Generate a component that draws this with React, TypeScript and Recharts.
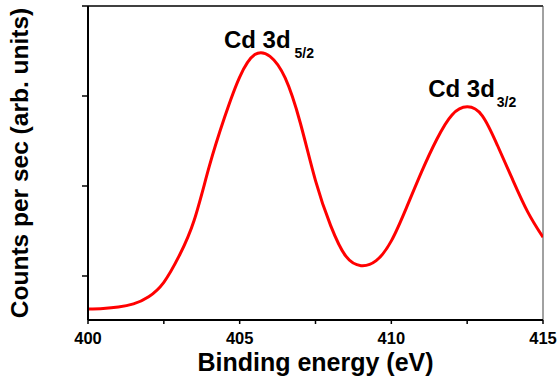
import React from "react";
import { LineChart, Line, XAxis, YAxis, ReferenceLine, ReferenceDot } from "recharts";

const energy = [400, 400.5, 401, 401.5, 402, 402.5, 403, 403.5, 404, 404.5, 405, 405.5, 406, 406.5, 407, 407.5, 408, 408.5, 409, 409.5, 410, 410.5, 411, 411.5, 412, 412.5, 413, 413.5, 414, 414.5, 415];
const counts = [0.633, 0.64, 0.655, 0.69, 0.77, 0.93, 1.22, 1.62, 2.22, 2.76, 3.21, 3.46, 3.44, 3.2, 2.7, 2.06, 1.56, 1.22, 1.115, 1.17, 1.39, 1.76, 2.16, 2.52, 2.79, 2.88, 2.78, 2.45, 2.07, 1.71, 1.43];
const xTicks = [400, 402.5, 405, 407.5, 410, 412.5, 415];
const xLabels = [400, 405, 410, 415];
const yTicks = [1, 2, 3, 4];
const peaks = [
  { x: 405.7, y: 3.49, main: "Cd 3d", sub: "5/2", dx: -37, dy: -4, gap: 4 },
  { x: 412.5, y: 2.88, main: "Cd 3d", sub: "3/2", dx: -39, dy: -10, gap: 2 },
];

const data = energy.map((e, i) => ({ e, c: counts[i] }));
const FONT = '"Liberation Sans", Arial, sans-serif';

const XTick = (props: any) => {
  const { x, y, payload } = props;
  if (!xLabels.includes(payload.value)) return <g />;
  return (
    <text x={x} y={y + 18} textAnchor="middle" fontFamily={FONT} fontWeight="bold" fontSize={16.5} fill="#000">
      {payload.value}
    </text>
  );
};

const EmptyTick = () => <g />;

const makeLabel = (p: typeof peaks[number]) => (props: any) => {
  const { cx, cy } = props;
  return (
    <text x={cx + p.dx} y={cy + p.dy} fontFamily={FONT} fontWeight="bold" fontSize={24} fill="#000">
      <tspan>{p.main}</tspan>
      <tspan fontSize={14} dx={p.gap} dy={10}>{p.sub}</tspan>
    </text>
  );
};

export default function App() {
  return (
    <div style={{ position: "absolute", left: 0, top: 0, width: 560, height: 376, background: "#fff" }}>
      <LineChart width={560} height={376} data={data} margin={{ top: 6, right: 17, bottom: 0, left: 0 }}>
        <XAxis
          dataKey="e"
          type="number"
          domain={[400, 415]}
          ticks={xTicks}
          allowDataOverflow
          height={56}
          tickSize={4}
          tickMargin={2}
          tick={<XTick />}
          axisLine={{ stroke: "#000", strokeWidth: 2 }}
          tickLine={{ stroke: "#000", strokeWidth: 1.5 }}
          label={{ value: "Binding energy (eV)", position: "insideBottom", offset: 5, fontFamily: FONT, fontWeight: "bold", fontSize: 25, fill: "#000" }}
        />
        <YAxis
          type="number"
          domain={[0.511, 4]}
          ticks={yTicks}
          allowDataOverflow
          width={88}
          tickSize={6}
          tick={<EmptyTick />}
          axisLine={{ stroke: "#000", strokeWidth: 2 }}
          tickLine={{ stroke: "#000", strokeWidth: 1.5 }}
          label={{ value: "Counts per sec (arb. units)", angle: -90, position: "insideLeft", offset: 19, style: { textAnchor: "middle" }, fontFamily: FONT, fontWeight: "bold", fontSize: 24.5, fill: "#000" }}
        />
        <ReferenceLine y={4} stroke="#000" strokeWidth={1.5} ifOverflow="visible" />
        <ReferenceLine x={415} stroke="#444" strokeWidth={1} ifOverflow="visible" />
        <Line type="natural" dataKey="c" stroke="#ff0000" strokeWidth={3} dot={false} isAnimationActive={false} />
        {peaks.map((p, i) => (
          <ReferenceDot key={i} x={p.x} y={p.y} r={0} ifOverflow="visible" shape={makeLabel(p)} />
        ))}
      </LineChart>
    </div>
  );
}
